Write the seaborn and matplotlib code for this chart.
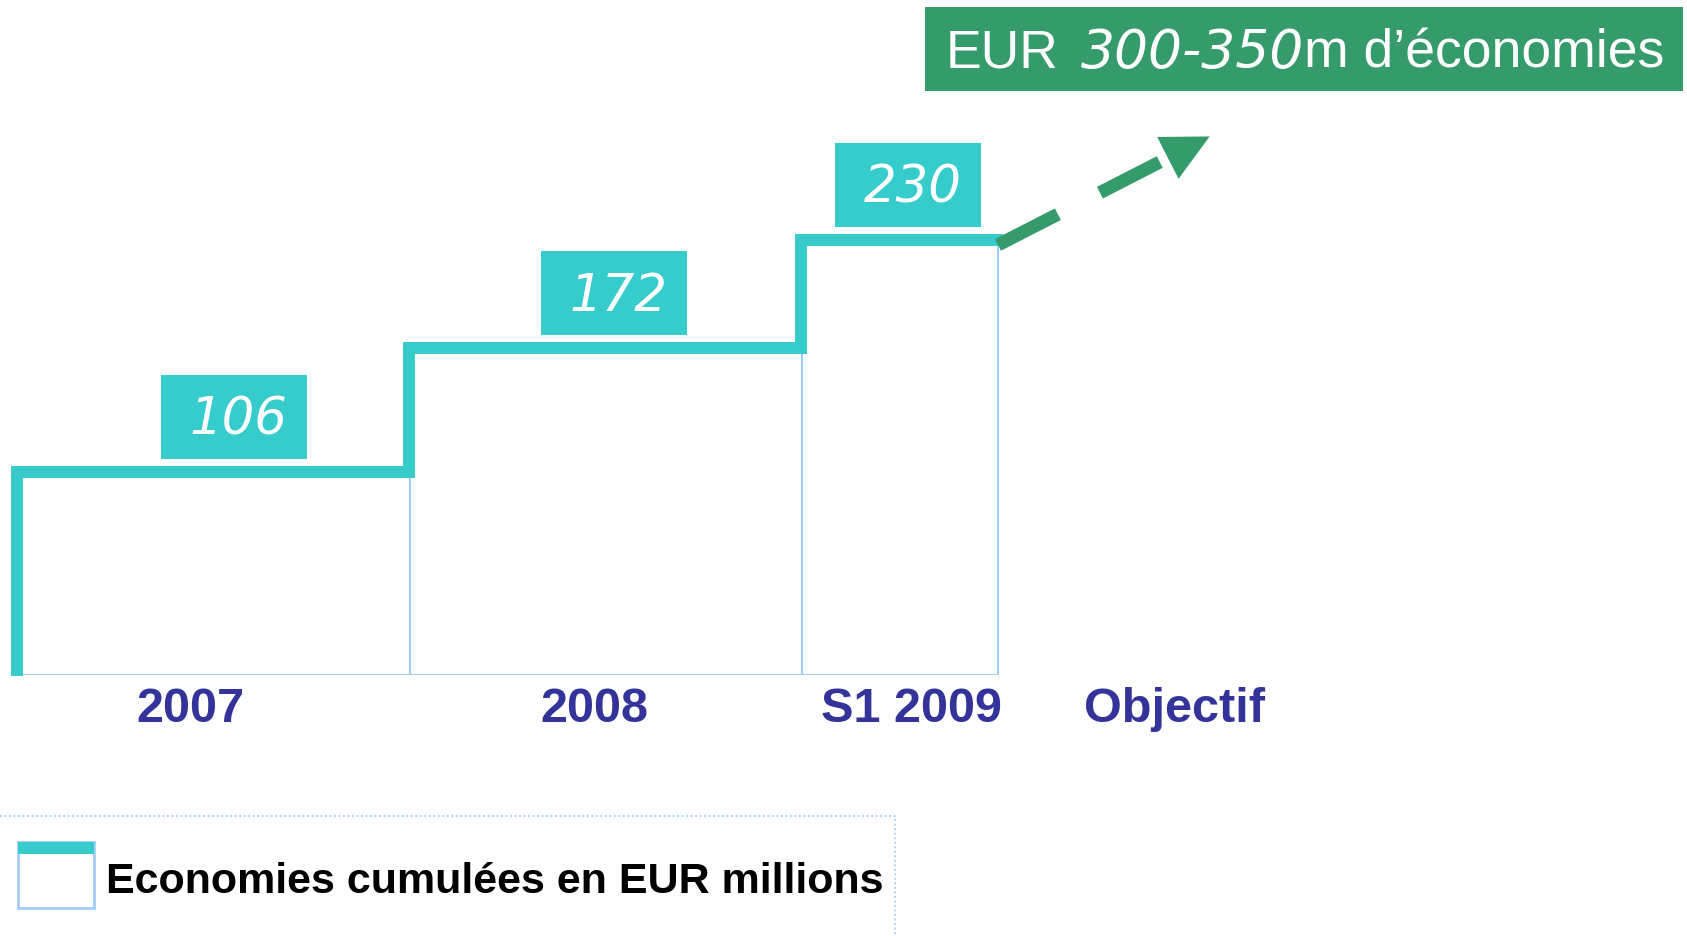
import numpy as np
import pandas as pd
import matplotlib
matplotlib.use("Agg")
import matplotlib.pyplot as plt
import matplotlib.transforms as mtransforms
from matplotlib.patches import Rectangle, Polygon
from matplotlib.lines import Line2D
import seaborn as sns

# ---- data -------------------------------------------------------------
periods = ["2007", "2008", "S1 2009"]
savings = [106, 172, 230]            # cumulative savings, EUR millions
period_widths = [1.0, 1.0, 0.5]      # S1 2009 only covers half a year
target_label = "Objectif"
target_range = (300, 350)
legend_label = "Economies cumulées en EUR millions"

# ---- styling ----------------------------------------------------------
TEAL = "#36CCCC"
GREEN = "#359B6A"
NAVY = "#333399"
EDGE = "#A3CDF6"
ITALIC_FAMILY = ["DejaVu Sans"]

sns.set_style("white")
plt.rcParams["font.family"] = ["Liberation Sans", "DejaVu Sans"]

W, H = 1687, 936
fig = plt.figure(figsize=(W / 100, H / 100), dpi=100)
fig.patch.set_facecolor("white")

# axes: baseline sits 675 px from the top of the canvas
base_px = 675
px_per_x = 392.0
px_per_y = 1.87
x0_px = 18
ax = fig.add_axes([0, 1 - base_px / H, 1, base_px / H])
ax.set_xlim(-x0_px / px_per_x, (W - x0_px) / px_per_x)
ax.set_ylim(0, base_px / px_per_y)
ax.set_facecolor("white")

lefts = np.concatenate([[0.0], np.cumsum(period_widths)[:-1]])
widths = np.array(period_widths)
centers = lefts + widths / 2
right_end = lefts[-1] + widths[-1]

# period boxes
ax.bar(lefts, savings, width=widths, align="edge", facecolor="white",
       edgecolor=EDGE, linewidth=1.5, zorder=2)

# cumulative staircase drawn along the box tops
step = pd.DataFrame({
    "x": [0.0] + list(lefts) + [right_end],
    "y": [0] + savings + [savings[-1]],
})
sns.lineplot(data=step, x="x", y="y", estimator=None, sort=False,
             drawstyle="steps-post", color=TEAL, linewidth=8.6, ax=ax)
stair = ax.lines[-1]
stair.set_solid_joinstyle("miter")
stair.set_solid_capstyle("projecting")
stair.set_transform(ax.transData +
                    mtransforms.ScaledTranslation(-1 / 100, 5 / 100, fig.dpi_scale_trans))
stair.set_clip_on(False)
stair.set_zorder(3)
ax.set_xlabel("")
ax.set_ylabel("")

# value tags above each step
box_w = 146 / px_per_x
box_h = 84 / px_per_y
gap = 18 / px_per_y
tag_nudge = [0.05, 0.02, 0.02]
for cx0, v, nd in zip(centers, savings, tag_nudge):
    cx = cx0 + nd
    ax.add_patch(Rectangle((cx - box_w / 2, v + gap), box_w, box_h,
                           facecolor=TEAL, edgecolor="none", zorder=4))
    ax.text(cx + 5 / px_per_x, v + gap + 0.29 * box_h, f"{v}",
            ha="center", va="baseline", color="white", fontsize=37,
            style="italic", family=ITALIC_FAMILY, zorder=5)

# category labels
target_pos = 2.95
label_nudge = [-0.06, -0.03, 0.03]
ax.set_xticks(list(centers + np.array(label_nudge)) + [target_pos],
              periods + [target_label])
ax.tick_params(axis="x", length=0, pad=9, labelsize=35, labelcolor=NAVY)
for lbl in ax.get_xticklabels():
    lbl.set_fontweight("bold")
ax.set_yticks([])
for s in ax.spines.values():
    s.set_visible(False)

# dashed trend arrow towards the target
start = np.array([right_end, savings[-1]])
tip = np.array([target_pos + 0.09, 288])
p0 = ax.transData.transform(start)
p1 = ax.transData.transform(tip)
d = p1 - p0
u = d / np.hypot(*d)
perp = np.array([-u[1], u[0]])
head_len, head_half = 47, 23.5
base = p1 - u * head_len
inv = ax.transData.inverted()
base_d = inv.transform(base)
ax.plot([start[0], base_d[0]], [start[1], base_d[1]], color=GREEN,
        linewidth=9.4, dashes=(67 / 13, 47 / 13), dash_capstyle="butt",
        clip_on=False, zorder=3)
head = inv.transform(np.array([p1, base + perp * head_half, base - perp * head_half]))
ax.add_patch(Polygon(head, closed=True, facecolor=GREEN, edgecolor="none",
                     clip_on=False, zorder=3))

# target banner
fig.patches.append(Rectangle((925 / W, 1 - 91 / H), (1683 - 925) / W, 84 / H,
                             transform=fig.transFigure, facecolor=GREEN,
                             edgecolor="none"))
fig.canvas.draw()
r = fig.canvas.get_renderer()
yb = 1 - 68 / H
t1 = fig.text(946 / W, yb, "EUR", color="white", fontsize=38.5, va="baseline", ha="left")
bb1 = t1.get_window_extent(r)
t2 = fig.text((bb1.x1 + 22) / W, yb, f"{target_range[0]}-{target_range[1]}",
              color="white", fontsize=38.5, va="baseline", ha="left",
              style="italic", family=ITALIC_FAMILY)
bb2 = t2.get_window_extent(r)
fig.text(bb2.x1 / W, yb, "m d\u2019économies", color="white", fontsize=38.5,
         va="baseline", ha="left")

# legend
fig.add_artist(Line2D([0, 895 / W, 895 / W], [1 - 816 / H, 1 - 816 / H, 0],
                      transform=fig.transFigure, color=EDGE, linewidth=1.3,
                      linestyle=(0, (1, 1.5))))
fig.patches.append(Rectangle((18 / W, 1 - 908 / H), 76 / W, 66 / H,
                             transform=fig.transFigure, facecolor="white",
                             edgecolor=EDGE, linewidth=2))
fig.patches.append(Rectangle((18 / W, 1 - 854 / H), 76 / W, 12 / H,
                             transform=fig.transFigure, facecolor=TEAL,
                             edgecolor="none"))
fig.text(106 / W, 1 - 893 / H, legend_label, color="black", fontsize=31,
         fontweight="bold", va="baseline", ha="left")

fig.savefig("out.png", dpi=100)
